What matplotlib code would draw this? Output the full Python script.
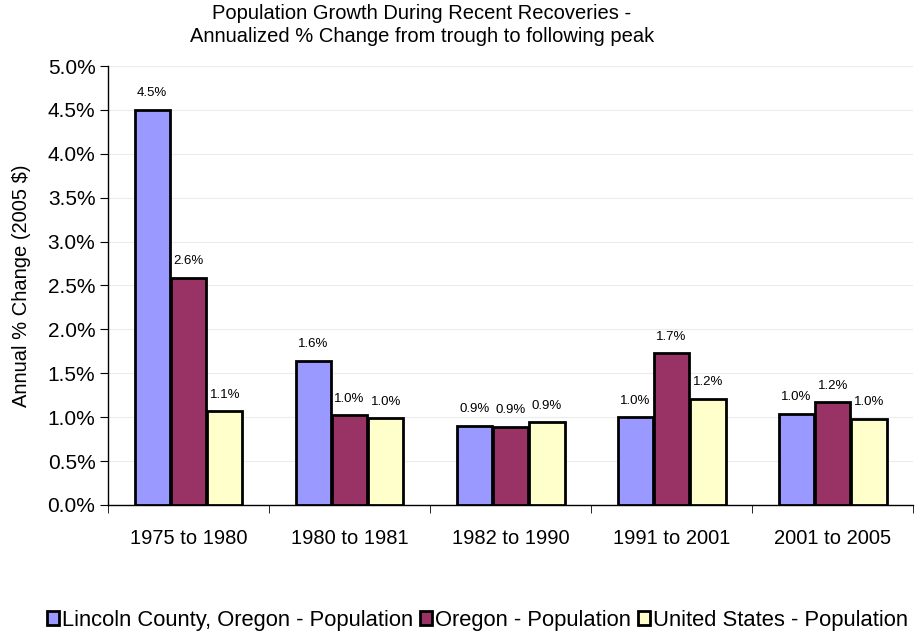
import matplotlib
matplotlib.use('Agg')
import matplotlib.pyplot as plt
import numpy as np

plt.rcParams['font.family'] = ['Liberation Sans', 'DejaVu Sans']

# Data (annualized % change)
periods = ['1975 to 1980', '1980 to 1981', '1982 to 1990', '1991 to 2001', '2001 to 2005']
lincoln = [4.50, 1.64, 0.90, 1.00, 1.04]
oregon = [2.59, 1.02, 0.89, 1.73, 1.17]
us = [1.07, 0.99, 0.94, 1.21, 0.98]
series_names = ['Lincoln County, Oregon - Population', 'Oregon - Population',
                'United States - Population']
colors = ['#9999FF', '#993366', '#FFFFCC']

fig = plt.figure(figsize=(9.15, 6.31), dpi=100)
ax = fig.add_axes([0.118, 0.1997, 0.88, 0.6957])

x = np.arange(len(periods))
w = 0.218
for i, (vals, name, c) in enumerate(zip([lincoln, oregon, us], series_names, colors)):
    pos = x + (i - 1) * (w + 0.008)
    bars = ax.bar(pos, vals, w, color=c, edgecolor='black', linewidth=2, label=name, zorder=3)
    for b, v in zip(bars, vals):
        ax.text(b.get_x() + b.get_width() / 2, v + 0.12, f'{v:.1f}%',
                ha='center', va='bottom', fontsize=9.5)

ax.set_xlim(-0.5, len(periods) - 0.5)
ax.set_ylim(0, 5.0)
ax.set_yticks(np.arange(0, 5.01, 0.5))
ax.set_yticklabels([f'{t:.1f}%' for t in np.arange(0, 5.01, 0.5)], fontsize=15)
ax.set_xticks(x)
ax.set_xticklabels(periods, fontsize=14.5)
ax.set_xticks(np.arange(-0.5, len(periods), 1), minor=True)
ax.tick_params(axis='x', which='major', length=0, pad=17)
ax.tick_params(axis='x', which='minor', length=6, direction='out', color='black')
ax.tick_params(axis='y', length=6, direction='out', pad=3)
ax.set_ylabel('Annual % Change (2005 $)', fontsize=14.5)
ax.yaxis.set_label_coords(-0.095, 0.5)
ax.yaxis.grid(True, color='#ececec', linewidth=0.8, zorder=0)
ax.set_axisbelow(True)
for s in ['top', 'right']:
    ax.spines[s].set_visible(False)
ax.spines['left'].set_linewidth(1)
ax.spines['bottom'].set_linewidth(1)

fig.text(0.461, 0.96, 'Population Growth During Recent Recoveries -\nAnnualized % Change from trough to following peak',
         ha='center', va='center', fontsize=14.5, linespacing=1.3)

fig.legend(loc='center', bbox_to_anchor=(0.522, 0.017), ncol=3, frameon=False, fontsize=15.8,
           handlelength=0.55, handleheight=0.55, handletextpad=0.15, columnspacing=0.3,
           borderaxespad=0)

fig.savefig('out.png', dpi=100)
